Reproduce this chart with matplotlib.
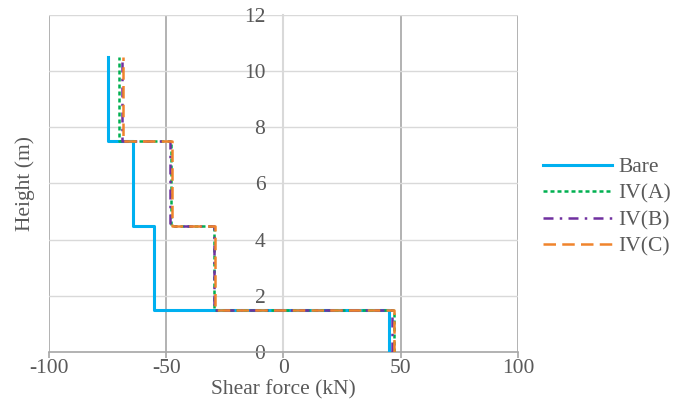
import numpy as np
import matplotlib.pyplot as plt

plt.rcParams['font.family'] = ['Liberation Serif', 'DejaVu Serif']
plt.rcParams['axes.unicode_minus'] = False

# storey boundaries (m) and shear per storey, bottom to top (kN)
levels = [0, 1.5, 4.5, 7.5, 10.5]
bare = [45, -55, -64, -75]
iv_a = [47, -29.5, -48, -70]
iv_b = [46.5, -29.8, -48.5, -69]
iv_c = [47, -29.2, -47.6, -68.6]

series = [
    ('Bare', bare, '#00B0F0', '-', 2.2),
    ('IV(A)', iv_a, '#00B050', (0, (1.6, 1.2)), 1.8),
    ('IV(B)', iv_b, '#7030A0', (0, (4, 2.5, 1, 2.5)), 1.8),
    ('IV(C)', iv_c, '#F0842C', (0, (5, 2.5)), 1.8),
]

txt = '#595959'
fs = 15.5

fig = plt.figure(figsize=(6.97, 4.01), dpi=100)
ax = fig.add_axes([0.0703, 0.122, 0.6727, 0.841])

yy = np.repeat(levels, 2)[1:-1]
for name, vals, col, ls, lw in series:
    ax.plot(np.repeat(vals, 2), yy, color=col, linestyle=ls, lw=lw, label=name, zorder=3)

ax.set_xlim(-100, 100)
ax.set_ylim(0, 12)
ax.set_xticks([-100, -50, 0, 50, 100])
ax.set_yticks(np.arange(0, 13, 2))

# vertical gridlines darker, horizontal lighter
for x in [-100, -50, 50, 100]:
    ax.axvline(x, color='#A6A6A6', lw=1.2, zorder=1)
for y in range(2, 13, 2):
    ax.axhline(y, color='#D9D9D9', lw=1.0, zorder=1)

for s in ['top', 'right']:
    ax.spines[s].set_visible(False)
ax.spines['left'].set_position(('data', 0))
ax.spines['left'].set_color('#D9D9D9')
ax.spines['left'].set_linewidth(1.5)
ax.spines['bottom'].set_color('#A6A6A6')
ax.spines['bottom'].set_linewidth(1.2)

ax.tick_params(axis='y', length=0, pad=13, labelsize=fs, labelcolor=txt)
ax.tick_params(axis='x', length=4, width=1.2, color='#A6A6A6', pad=1,
               labelsize=fs, labelcolor=txt)

fig.text(0.406, 0.027, 'Shear force (kN)', ha='center', va='center',
         fontsize=fs, color=txt)
fig.text(0.036, 0.543, 'Height (m)', ha='center', va='center',
         rotation=90, fontsize=fs, color=txt)

fig.legend(loc='center left', bbox_to_anchor=(0.779, 0.484), frameon=False,
           fontsize=fs, labelcolor=txt, handlelength=3.2, handletextpad=0.3,
           labelspacing=0.3, borderpad=0, borderaxespad=0)

fig.savefig('out.png', dpi=100)
